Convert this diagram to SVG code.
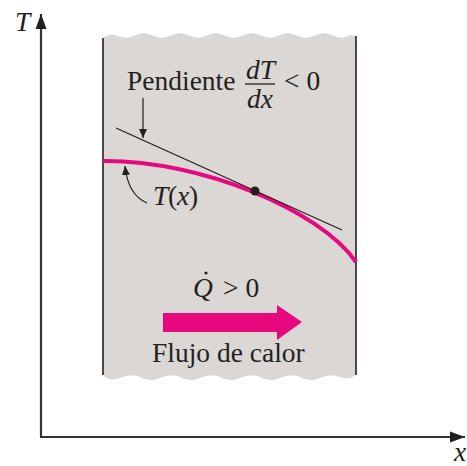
<svg xmlns="http://www.w3.org/2000/svg" width="467" height="466" viewBox="0 0 467 466">
<style>
.t{font-family:"Liberation Serif","Times New Roman",serif;fill:#231f20;font-size:27.5px}
.i{font-style:italic}
.ax{stroke:#333;stroke-width:2.2;fill:none}
.thin{stroke:#231f20;stroke-width:1.2;fill:none}
</style>
<defs>
<marker id="ah" markerWidth="10" markerHeight="10" refX="9" refY="5" orient="auto" markerUnits="userSpaceOnUse">
<path d="M0,1 L9,5 L0,9 Z" fill="#231f20"/>
</marker>
<marker id="axh" markerWidth="16" markerHeight="12" refX="15" refY="6" orient="auto" markerUnits="userSpaceOnUse">
<path d="M0,0.5 L15,6 L0,11.5 Z" fill="#231f20"/>
</marker>
</defs>
<rect width="467" height="466" fill="#fff"/>
<g id="slab">
<path d="M103,38 Q110,32 118,36 Q127,40 136,35 Q145,31 154,36 Q163,40 172,35 Q181,31 190,36 Q199,40 208,35 Q217,31 226,36 Q235,40 244,35 Q253,31 262,36 Q271,40 280,35 Q289,31 298,36 Q307,40 316,35 Q325,31 334,36 Q343,40 350,35 L356,36 L356,375 Q348,381 340,377 Q330,373 320,378 Q310,383 300,377 Q290,373 280,378 Q270,383 260,377 Q250,373 240,378 Q230,383 220,377 Q210,373 200,378 Q190,383 180,377 Q170,373 160,378 Q150,383 140,377 Q130,373 120,378 Q110,382 103,375 Z" fill="#dad7d4"/>
<line x1="103" y1="38" x2="103" y2="375" stroke="#231f20" stroke-width="1.6"/>
<line x1="356" y1="36" x2="356" y2="375" stroke="#231f20" stroke-width="1.6"/>
</g>
<g id="axes">
<line class="ax" x1="41" y1="437" x2="41" y2="14" marker-end="url(#axh)"/>
<line class="ax" x1="40" y1="437" x2="465" y2="437" marker-end="url(#axh)"/>
<text class="t i" x="15" y="31" font-size="24">T</text>
<text class="t i" x="454" y="461" font-size="24">x</text>
</g>
<g id="curve">
<path d="M103,161 C200,160 320,210 356,262" stroke="#e8087e" stroke-width="4" fill="none"/>
</g>
<g id="tangent">
<line class="thin" x1="116" y1="128" x2="342" y2="230"/>
<circle cx="255" cy="191" r="4.5" fill="#231f20"/>
</g>
<g id="slope-label">
<text class="t" x="127" y="90">Pendiente</text>
<text class="t i" x="246" y="79" font-size="25">dT</text>
<line x1="245" y1="84" x2="275" y2="84" stroke="#231f20" stroke-width="1.3"/>
<text class="t i" x="247" y="108" font-size="25">dx</text>
<text class="t" x="284" y="90">&lt; 0</text>
</g>
<g id="connectors">
<line class="thin" x1="143" y1="98" x2="143" y2="138" marker-end="url(#ah)"/>
<path class="thin" d="M147,203 Q128,195 125,166" marker-end="url(#ah)"/>
</g>
<g id="tx-label">
<text class="t i" x="153" y="205">T</text><text class="t" x="168" y="205">(</text><text class="t i" x="177" y="205">x</text><text class="t" x="189" y="205">)</text>
</g>
<g id="heat-flow">
<text class="t i" x="193" y="297">Q</text>
<circle cx="206" cy="273" r="1.6" fill="#231f20"/>
<text class="t" x="223" y="297">&gt; 0</text>
<path d="M163,313 L277,313 L277,305 L302,322 L277,340 L277,332 L163,332 Z" fill="#e8087e"/>
<text class="t" x="152" y="362">Flujo de calor</text>
</g>
</svg>
